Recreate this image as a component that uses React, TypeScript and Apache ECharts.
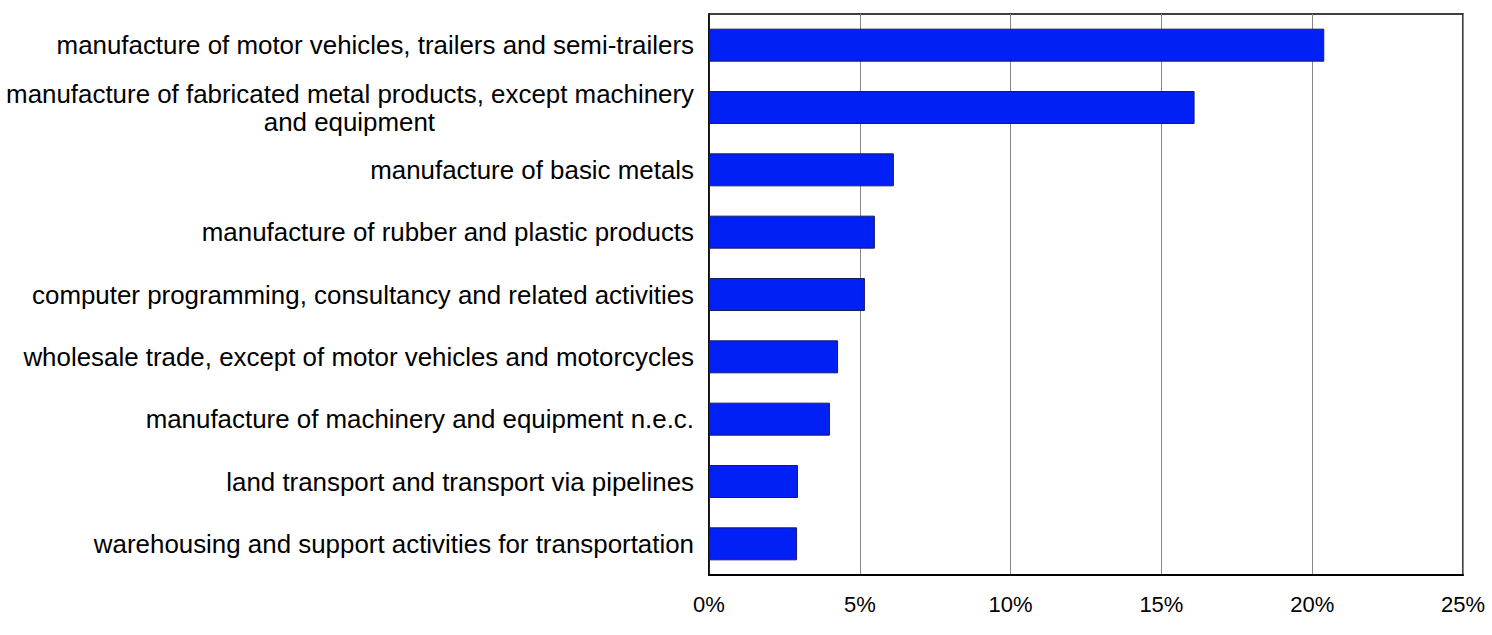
import React, { useEffect, useRef } from 'react'
import * as echarts from 'echarts'

// second line of the long label is centred under the first one in the source,
// so it is padded on the right with no-break spaces
const pad = '\u00A0'.repeat(36)

const categories = [
  'manufacture of motor vehicles, trailers and semi-trailers',
  'manufacture of fabricated metal products, except machinery\nand equipment' + pad,
  'manufacture of basic metals',
  'manufacture of rubber and plastic products',
  'computer programming, consultancy and related activities',
  'wholesale trade, except of motor vehicles and motorcycles',
  'manufacture of machinery and equipment n.e.c.',
  'land transport and transport via pipelines',
  'warehousing and support activities for transportation',
]

const shares = [20.4, 16.1, 6.13, 5.5, 5.17, 4.28, 4.01, 2.95, 2.92]

const App: React.FC = () => {
  const chartRef = useRef<HTMLDivElement>(null)

  useEffect(() => {
    if (!chartRef.current) return
    const chart = echarts.init(chartRef.current, null, { renderer: 'svg' })
    chart.setOption({
      animation: false,
      grid: {
        left: 709,
        right: 29,
        top: 14,
        bottom: 60,
        show: true,
        borderColor: '#000',
        borderWidth: 1.5,
      },
      xAxis: {
        type: 'value',
        min: 0,
        max: 25,
        interval: 5,
        axisLine: { show: true, lineStyle: { color: '#000', width: 2 } },
        axisTick: { show: false },
        splitLine: { show: true, lineStyle: { color: '#888', width: 1 } },
        axisLabel: {
          formatter: '{value}%',
          color: '#000',
          fontSize: 22,
          fontFamily: 'Liberation Sans',
          margin: 18,
        },
      },
      yAxis: {
        type: 'category',
        data: categories,
        inverse: true,
        axisLine: { show: true, lineStyle: { color: '#000', width: 1.5 } },
        axisTick: { show: false },
        axisLabel: {
          color: '#000',
          fontSize: 25.9,
          fontFamily: 'Liberation Sans',
          margin: 15,
          lineHeight: 28,
          align: 'right',
        },
      },
      series: [
        {
          type: 'bar',
          data: shares,
          barWidth: 33,
          itemStyle: { color: '#0020f5', borderColor: '#1a1a66', borderWidth: 1 },
        },
      ],
    })
    return () => chart.dispose()
  }, [])

  return (
    <div
      ref={chartRef}
      style={{ position: 'absolute', left: 0, top: 0, width: 1492, height: 635 }}
    />
  )
}

export default App
